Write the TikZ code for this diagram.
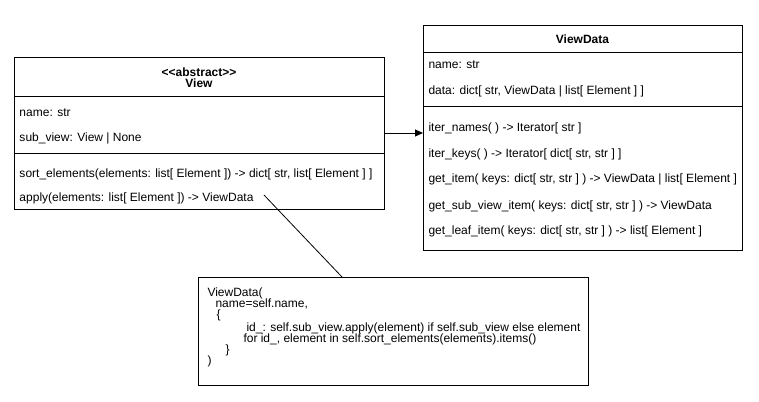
\documentclass[tikz,border=0pt]{standalone}
\usepackage{fontspec}
\setmainfont{Liberation Sans}
\usetikzlibrary{arrows.meta}
\begin{document}
\begin{tikzpicture}[x=1pt,y=-1pt,line width=1pt,
  box/.style={draw,anchor=north west,inner sep=0pt,rectangle},
  txt/.style={anchor=base west,inner sep=0pt,font=\fontsize{12}{14}\selectfont},
  ttl/.style={anchor=base,inner sep=0pt,font=\fontsize{12}{14}\selectfont\bfseries},
  ntxt/.style={anchor=base west,inner sep=0pt,font=\fontsize{12}{14}\selectfont},
  conn/.style={draw,line width=0.8pt}]
\useasboundingbox (0,0) rectangle (759,401);

% ---- View class
\node[box,minimum width=370pt,minimum height=152pt] (view) at (14,57) {};
\draw ([yshift=-39.5pt]view.north west) -- ([yshift=-39.5pt]view.north east);
\draw ([yshift=-96pt]view.north west) -- ([yshift=-96pt]view.north east);
\node[ttl] (vst) at (199,77) {\mbox{<}\kern0pt\mbox{<}abstract\mbox{>}\kern0pt\mbox{>}};
\node[ttl] (vnm) at (199,88) {View};
\node[txt] (va1) at (19,116) {name: str};
\node[txt] (va2) at (19,141) {sub\_view: View | None};
\node[txt] (vm1) at (19,177) {sort\_elements(elements: list[ Element ]) -> dict[ str, list[ Element ] ]};
\node[txt] (vm2) at (19,201) {apply(elements: list[ Element ]) -> ViewData};

% ---- ViewData class
\node[box,minimum width=319pt,minimum height=225pt] (vd) at (423,25) {};
\draw ([yshift=-28pt]vd.north west) -- ([yshift=-28pt]vd.north east);
\draw ([yshift=-82pt]vd.north west) -- ([yshift=-82pt]vd.north east);
\node[ttl] (vdt) at (582.5,44) {ViewData};
\node[txt] (da1) at (428,69) {name: str};
\node[txt] (da2) at (428,95) {data: dict[ str, ViewData | list[ Element ] ]};
\node[txt] (dm1) at (428,131) {iter\_names( ) -> Iterator[ str ]};
\node[txt] (dm2) at (428,157) {iter\_keys( ) -> Iterator[ dict[ str, str ] ]};
\node[txt] (dm3) at (428,182) {get\_item( keys: dict[ str, str ] ) -> ViewData | list[ Element ]};
\node[txt] (dm4) at (428,209) {get\_sub\_view\_item( keys: dict[ str, str ] ) -> ViewData};
\node[txt] (dm5) at (428,234) {get\_leaf\_item( keys: dict[ str, str ] ) -> list[ Element ]};

% ---- note
\node[box,minimum width=390pt,minimum height=108pt] (note) at (198,277) {};
\node[ntxt] (n1) at (207,296) {ViewData(};
\node[ntxt] (n2) at (215,307) {name=self.name,};
\node[ntxt] (n3) at (216,318) {\{};
\node[ntxt] (n4) at (246,331) {id\_: self.sub\_view.apply(element) if self.sub\_view else element};
\node[ntxt] (n5) at (243,342) {for id\_, element in self.sort\_elements(elements).items()};
\node[ntxt] (n6) at (225,353) {\}};
\node[ntxt] (n7) at (207,364) {)};

% ---- connectors
\draw[line width=1pt,-{Triangle[length=8pt,width=7pt]}] (view.east |- 0,133) coordinate (a0) -- (vd.west |- a0);
\coordinate (c0) at (264,195);
\draw[conn] (c0) -- (note.north -| 342,0);
\end{tikzpicture}
\end{document}
